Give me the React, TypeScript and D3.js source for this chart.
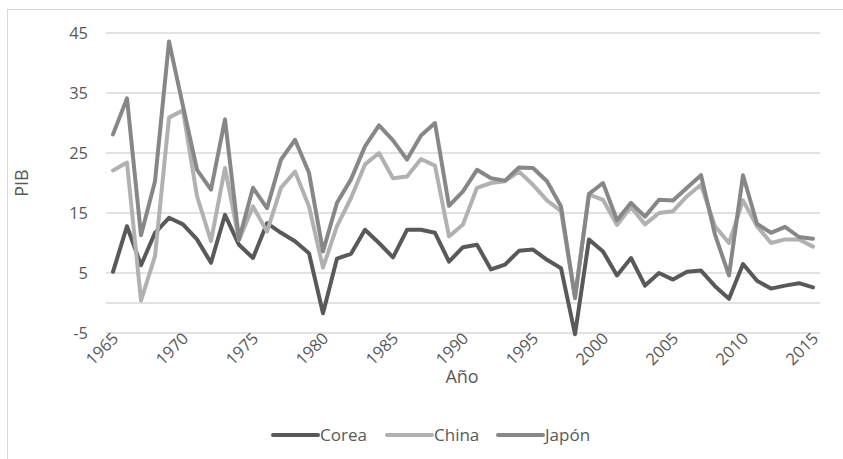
import React from "react";
import * as d3 from "d3";

const years: number[] = d3.range(1965, 2016);
const corea = [5.2, 12.8, 6.3, 11.7, 14.2, 13.1, 10.6, 6.7, 14.7, 9.7,
  7.5, 13.3, 11.7, 10.3, 8.3, -1.7, 7.4, 8.2, 12.2, 10.0,
  7.6, 12.2, 12.2, 11.7, 6.9, 9.3, 9.7, 5.6, 6.4, 8.7,
  8.9, 7.2, 5.8, -5.2, 10.6, 8.6, 4.6, 7.5, 2.9, 5.0,
  3.9, 5.2, 5.4, 2.8, 0.7, 6.5, 3.7, 2.4, 2.9, 3.3,
  2.6];
const china = [22.1, 23.4, 0.4, 7.8, 30.9, 32.1, 17.8, 10.3, 22.5, 10.5,
  16.1, 11.9, 19.2, 21.9, 16.1, 5.9, 12.8, 17.5, 23.1, 25.0,
  20.8, 21.1, 24.0, 22.9, 11.1, 13.1, 19.2, 20.0, 20.3, 21.9,
  19.7, 17.1, 15.3, 1.1, 18.1, 17.2, 13.0, 16.0, 13.1, 15.0,
  15.3, 17.8, 19.7, 12.8, 10.0, 17.1, 12.8, 10.0, 10.6, 10.6,
  9.4];
const japon = [28.1, 34.1, 11.3, 20.3, 43.6, 32.8, 22.2, 18.9, 30.6, 10.6,
  19.2, 15.8, 23.9, 27.2, 21.7, 8.6, 16.7, 20.6, 26.1, 29.6,
  27.1, 23.9, 27.9, 30.0, 16.2, 18.6, 22.2, 20.8, 20.4, 22.6,
  22.5, 20.3, 16.1, 0.8, 18.2, 20.0, 13.8, 16.7, 14.4, 17.2,
  17.1, 19.2, 21.3, 11.4, 4.6, 21.3, 13.2, 11.7, 12.7, 11.0,
  10.7];
const yTicks = [-5, 5, 15, 25, 35, 45];
const xTickYears = [1965, 1970, 1975, 1980, 1985, 1990, 1995, 2000, 2005, 2010, 2015];

const series = [
  { name: "Corea", values: corea, color: "#595959" },
  { name: "China", values: china, color: "#b1b1b1" },
  { name: "Japón", values: japon, color: "#878787" },
];

const W = 843, H = 459;
const FONT = "'Open Sans', sans-serif";

export default function App() {
  const x = d3.scalePoint<number>().domain(years).range([113, 813]);
  const y = d3.scaleLinear().domain([-5, 45]).range([333, 33]);
  const line = d3.line<number>()
    .x((_, i) => x(years[i]) as number)
    .y((d) => y(d));
  const legendX = [273, 387, 498];
  return (
    <div style={{ position: "absolute", left: 0, top: 0 }}>
      <svg width={W} height={H} style={{ display: "block", fontFamily: FONT }}>
        <rect x={0} y={0} width={W} height={H} fill="#fff" />
        <rect x={7.5} y={9.5} width={W} height={H} fill="none" stroke="#d9d9d9" strokeWidth={1} />
        {yTicks.map((t) => (
          <line key={t} x1={106} x2={820} y1={y(t)} y2={y(t)} stroke="#d9d9d9" strokeWidth={1.4} />
        ))}
        <line x1={106} x2={820} y1={y(0)} y2={y(0)} stroke="#d9d9d9" strokeWidth={1.4} />
        {yTicks.map((t) => (
          <text key={t} x={88} y={y(t)} dy="0.35em" textAnchor="end" fontSize={16.5} fill="#595959">{t}</text>
        ))}
        {xTickYears.map((yr) => {
          const px = (x(yr) as number) + 3;
          const py = 336;
          return (
            <text key={yr} x={px} y={py} textAnchor="end" fontSize={16.5} fill="#595959"
              transform={`rotate(-45 ${px} ${py})`} dy="0.3em">{yr}</text>
          );
        })}
        <text x={462} y={383} textAnchor="middle" fontSize={18} fill="#595959">Año</text>
        <text x={0} y={0} textAnchor="middle" fontSize={18} fill="#595959"
          transform={`translate(28 ${183}) rotate(-90)`}>PIB</text>
        {series.map((s) => (
          <path key={s.name} d={line(s.values) || ""} fill="none" stroke={s.color}
            strokeWidth={4} strokeLinejoin="round" strokeLinecap="round" />
        ))}
        {series.map((s, i) => (
          <g key={s.name}>
            <line x1={legendX[i]} x2={legendX[i] + 45} y1={435} y2={435} stroke={s.color} strokeWidth={4} strokeLinecap="round" />
            <text x={legendX[i] + 47} y={435} dy="0.36em" fontSize={17} fill="#595959">{s.name}</text>
          </g>
        ))}
      </svg>
    </div>
  );
}
